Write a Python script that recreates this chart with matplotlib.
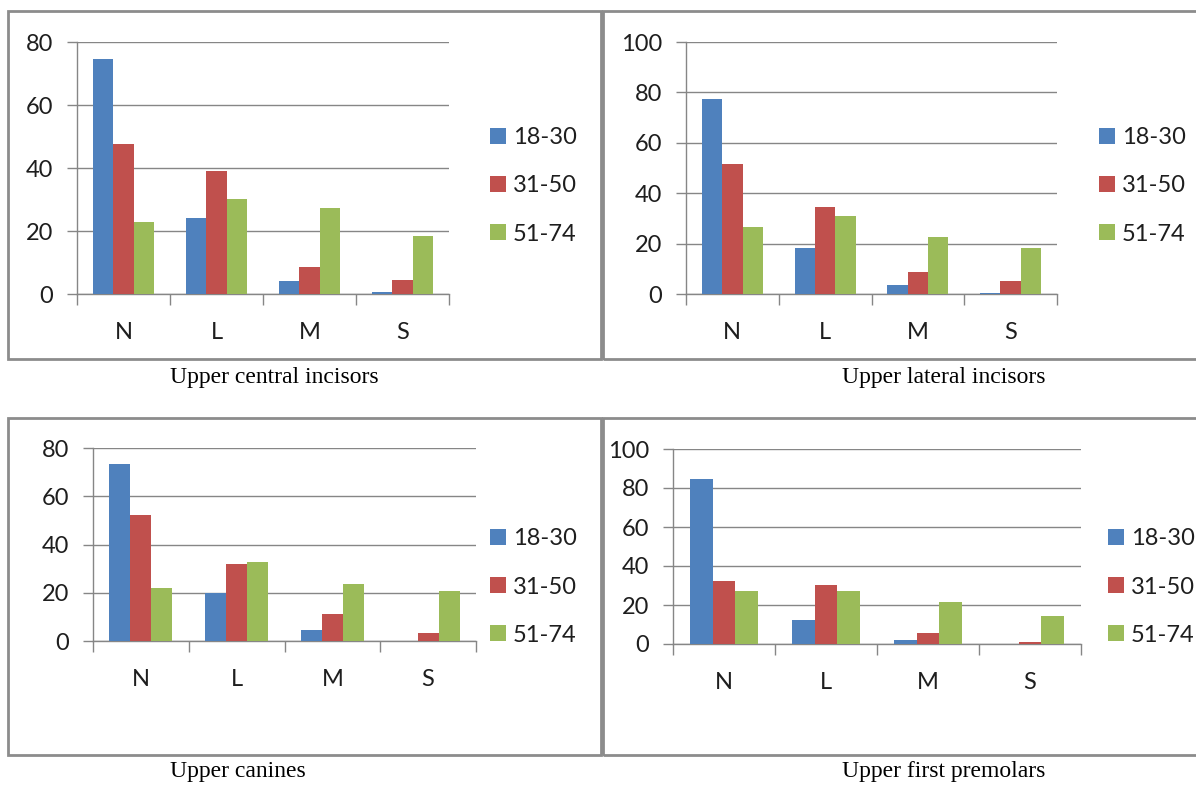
import matplotlib
matplotlib.use("Agg")
import matplotlib.pyplot as plt
from matplotlib.patches import Rectangle, Patch
import numpy as np

W, H = 1196, 786

categories = ["N", "L", "M", "S"]
age_groups = ["18-30", "31-50", "51-74"]
bar_colors = ["#4F81BD", "#C0504D", "#9BBB59"]

central_incisors = [
    [74.5, 24.0, 4.0, 0.5],
    [47.7, 39.1, 8.6, 4.5],
    [22.8, 30.1, 27.3, 18.3],
]
lateral_incisors = [
    [77.4, 18.4, 3.6, 0.5],
    [51.4, 34.6, 8.6, 5.0],
    [26.4, 31.0, 22.5, 18.4],
]
canines = [
    [73.5, 19.7, 4.4, 0.0],
    [52.2, 32.1, 11.3, 3.3],
    [21.9, 32.6, 23.6, 20.8],
]
first_premolars = [
    [84.6, 12.1, 2.2, 0.0],
    [32.4, 30.5, 5.6, 1.0],
    [27.3, 27.3, 21.3, 14.2],
]

titles = ["Upper central incisors", "Upper lateral incisors",
          "Upper canines", "Upper first premolars"]

GRAY = "#868686"
FRAME = "#8c8c8c"
TEXT = "#1e1e1e"


def px_rect(x0, y0, x1, y1):
    """pixel box (top-left origin) -> figure fraction rect"""
    return [x0 / W, 1 - y1 / H, (x1 - x0) / W, (y1 - y0) / H]


fig = plt.figure(figsize=(W / 100, H / 100), dpi=100)
fig.patch.set_facecolor("white")

# panel frames
for x0, y0, x1, y1 in [(8, 11, 601, 359), (603, 11, 1203, 359),
                       (8, 418, 601, 755), (603, 418, 1203, 755)]:
    fig.patches.append(Rectangle((x0 / W, 1 - y1 / H), (x1 - x0) / W, (y1 - y0) / H,
                                 transform=fig.transFigure, fill=False,
                                 edgecolor=FRAME, linewidth=2.0, zorder=0))

panels = [
    (central_incisors, 80, (77, 42, 449, 294), (490, 186), (170, 378)),
    (lateral_incisors, 100, (686, 42, 1057, 294), (1099, 186), (842, 378)),
    (canines, 80, (93, 448, 476, 641), (490, 587), (170, 772)),
    (first_premolars, 100, (673, 449, 1081, 644), (1108, 587), (842, 772)),
]

x = np.arange(len(categories))
width = 0.219

for (values, ymax, box, leg_pos, cap_pos), title in zip(panels, titles):
    ax = fig.add_axes(px_rect(*box))
    for i, (vals, color) in enumerate(zip(values, bar_colors)):
        ax.bar(x + (i - 1) * width, vals, width, color=color, zorder=3,
               linewidth=0)

    ax.set_xlim(-0.5, len(categories) - 0.5)
    ax.set_ylim(0, ymax)
    ax.set_yticks(np.arange(0, ymax + 1, 20))
    ax.yaxis.grid(True, color=GRAY, linewidth=1.0, zorder=0)
    ax.set_axisbelow(True)

    # boundary ticks between categories, labels centred on each group
    ax.set_xticks(np.arange(-0.5, len(categories), 1.0))
    ax.set_xticklabels([])
    ax.set_xticks(x, minor=True)
    ax.set_xticklabels(categories, minor=True)
    ax.tick_params(axis="x", which="major", length=8, width=1.0, color=GRAY)
    ax.tick_params(axis="x", which="minor", length=0, pad=20,
                   labelsize=17, labelcolor=TEXT)
    ax.tick_params(axis="y", length=7, width=1.0, color=GRAY, pad=10,
                   labelsize=17, labelcolor=TEXT)
    for lab in ax.get_xticklabels(minor=True) + ax.get_yticklabels():
        lab.set_family("Lato")

    for side in ("top", "right"):
        ax.spines[side].set_visible(False)
    for side in ("left", "bottom"):
        ax.spines[side].set_color(GRAY)
        ax.spines[side].set_linewidth(1.0)

    handles = [Patch(facecolor=c, edgecolor="none") for c in bar_colors]
    ax.legend(handles, age_groups, loc="center left",
              bbox_to_anchor=(leg_pos[0] / W, 1 - leg_pos[1] / H),
              bbox_transform=fig.transFigure, frameon=False,
              prop={"family": "Lato", "size": 17}, labelcolor=TEXT,
              handlelength=0.68, handleheight=0.68, handletextpad=0.3,
              labelspacing=1.15, borderpad=0, borderaxespad=0)

    fig.text(cap_pos[0] / W, 1 - cap_pos[1] / H, title, ha="left", va="center",
             family="Liberation Serif", fontsize=17, color="black")

fig.savefig("out.png", dpi=100, facecolor="white")
